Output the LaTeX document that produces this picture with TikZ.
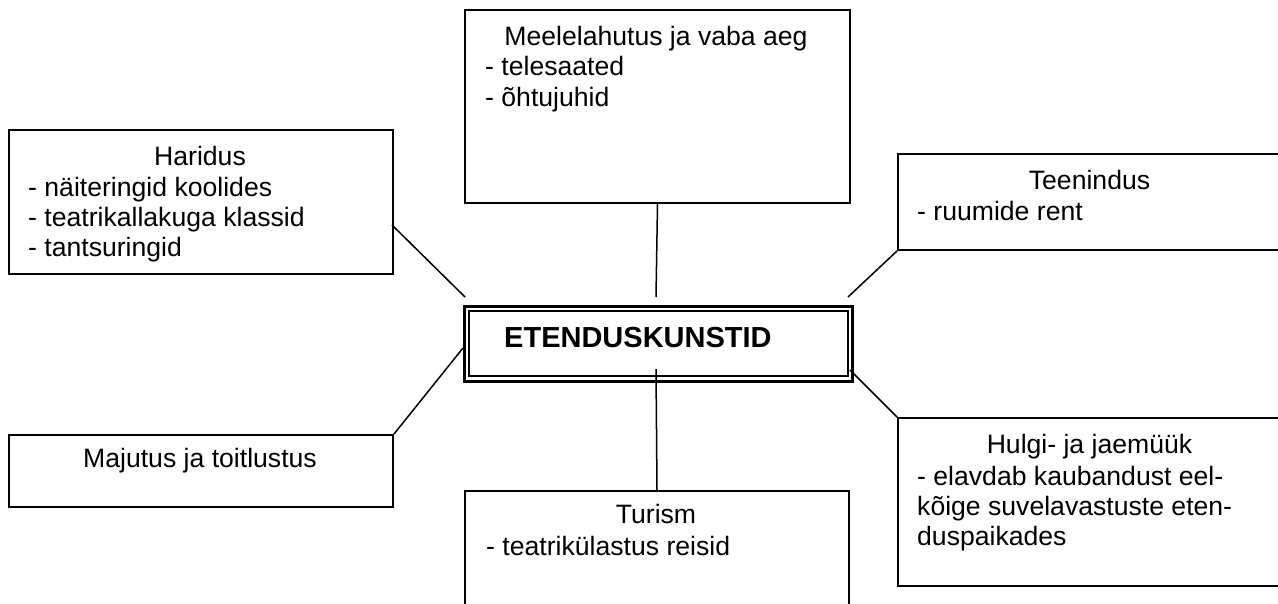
\documentclass[tikz,border=0pt]{standalone}
\usepackage{fontspec}
\setmainfont{Liberation Sans}
\begin{document}
\begin{tikzpicture}[x=1pt,y=-1pt,
  box/.style={draw=black,line width=2pt,rectangle,inner sep=0pt,anchor=north west},
  conn/.style={draw=black,line width=1.5pt},
  txt/.style={inner sep=0pt,font=\fontsize{26.6}{30.6}\selectfont},
  ttl/.style={txt,anchor=base},
  itm/.style={txt,anchor=base west}]
\useasboundingbox (0,0) rectangle (1278,603);
\clip (0,0) rectangle (1278,603);
% boxes
\node[box,minimum width=385pt,minimum height=193pt] (mee) at (464,9) {};
\node[box,minimum width=384pt,minimum height=144pt] (har) at (8,129) {};
\node[box,minimum width=386pt,minimum height=96pt] (tee) at (897,153) {};
\node[box,minimum width=384pt,minimum height=72pt] (maj) at (8,434) {};
\node[box,minimum width=384pt,minimum height=130pt] (tur) at (464,490) {};
\node[box,minimum width=386pt,minimum height=168pt] (hul) at (897,417) {};
% central double box
\node[draw=black,line width=3pt,inner sep=0pt,anchor=north west,minimum width=388.5pt,minimum height=75.5pt] (etOut) at (462.5,304.5) {};
\node[draw=black,line width=2pt,inner sep=0pt,anchor=north west,minimum width=379pt,minimum height=65.5pt] (etIn) at (467.5,309.5) {};
\node[inner sep=0pt,anchor=base west,font=\fontsize{29}{33}\selectfont\bfseries] (et) at (504,347) {ETENDUSKUNSTID};
% texts
\node[ttl] (meeT) at (656,45) {Meelelahutus ja vaba aeg};
\node[itm] (mee1) at (485,75) {- telesaated};
\node[itm] (mee2) at (485,106) {- õhtujuhid};
\node[ttl] (harT) at (200,165) {Haridus};
\node[itm] (har1) at (28,196) {- näiteringid koolides};
\node[itm] (har2) at (28,226) {- teatrikallakuga klassid};
\node[itm] (har3) at (28,256) {- tantsuringid};
\node[ttl] (teeT) at (1089.5,189) {Teenindus};
\node[itm] (tee1) at (917,220) {- ruumide rent};
\node[ttl] (majT) at (200,467) {Majutus ja toitlustus};
\node[ttl] (turT) at (656,523) {Turism};
\node[itm] (tur1) at (486,555) {- teatrikülastus reisid};
\node[ttl] (hulT) at (1089.5,453) {Hulgi- ja jaemüük};
\node[itm] (hul1) at (917,485) {- elavdab kaubandust eel-};
\node[itm] (hul2) at (917,515) {kõige suvelavastuste eten-};
\node[itm] (hul3) at (917,545) {duspaikades};
% connector ends
\coordinate (cN) at (656,297);
\coordinate (cNW) at (465,297);
\coordinate (cNE) at (848,297);
\coordinate (cW) at (463,348);
\coordinate (cS) at (656,369);
\coordinate (cSE) at (850,370);
\coordinate (harE) at (392,225);
% connectors
\draw[conn] (mee.south) -- (cN);
\draw[conn] (harE) -- (cNW);
\draw[conn] (tee.south west) -- (cNE);
\draw[conn] (maj.north east) -- (cW);
\draw[conn] (cS) -- (tur.north);
\draw[conn] (cSE) -- (hul.north west);
\end{tikzpicture}
\end{document}
